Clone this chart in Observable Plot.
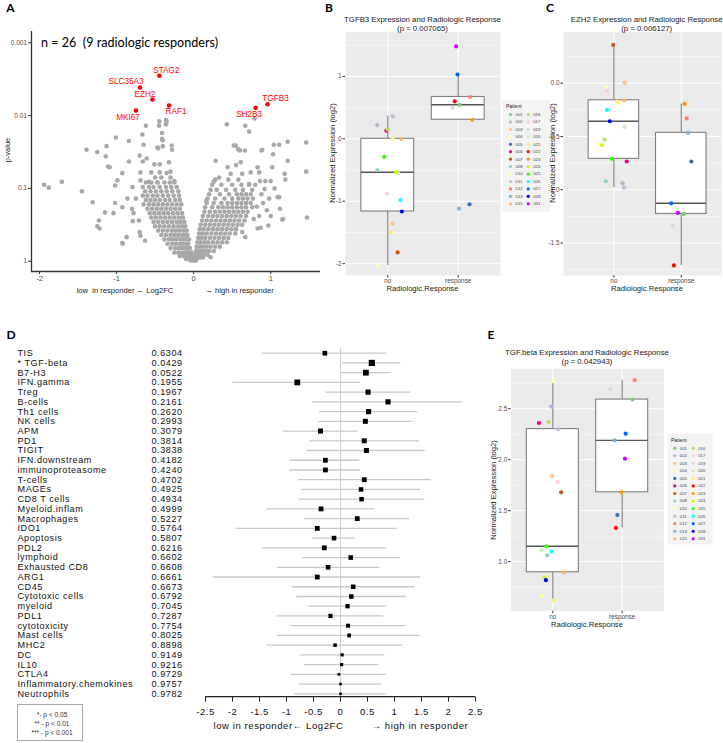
<!DOCTYPE html>
<html><head><meta charset="utf-8">
<script src="https://cdn.jsdelivr.net/npm/d3@7"></script>
<script src="https://cdn.jsdelivr.net/npm/@observablehq/plot@0.6"></script>
<style>
body{margin:0;background:#fff;}
#fig{position:relative;width:723px;height:743px;overflow:hidden;font-family:'Liberation Sans',Arial,sans-serif;}
#fig svg{position:absolute;}
</style></head><body><div id="fig"></div>
<script>
// ---------------- Panel A: volcano ----------------
const volcanoTicksX = [-2, -1, 0, 1];
const volcanoTickLabelsY = ["1", "0.1", "0.01", "0.001"]; // at -log10(p) = 0,1,2,3
const hitGenes = ["STAG2", "SLC35A3", "EZH2", "RAF1", "MKI67", "TGFB3", "SH2B3"];
const hitLog2FC = [-0.445, -0.695, -0.535, -0.32, -0.748, 0.959, 0.804];
const hitP = [0.00284, 0.00411, 0.00601, 0.00726, 0.00851, 0.00697, 0.00782];
// scattered genes: [log2FC, -log10 p]
const volcanoScatter = [
[-0.62,1.86],[-0.445,1.92],[-0.35,1.92],[-0.45,1.86],[-0.36,1.88],[-0.36,1.94],
[0.43,1.88],[0.67,1.86],[0.72,1.78],[0.79,1.96],
[-1.01,1.70],[-0.84,1.65],[-0.665,1.74],[-0.65,1.60],[-0.47,1.56],[-0.40,1.58],[-0.40,1.66],[-0.41,1.76],[-0.28,1.53],[-0.285,1.59],[-1.13,1.58],[-1.39,1.53],[-1.25,1.50],
[0.545,1.59],[0.59,1.53],[0.89,1.53],[1.04,1.60],[1.11,1.60],[1.22,1.64],[1.46,1.63],
[-1.94,1.05],[-1.88,1.01],[-1.71,1.09],[-1.45,0.96],[-1.31,0.81],
[-1.14,1.44],[-1.11,1.30],[-1.15,0.67],[-1.04,0.66],[-1.23,0.56],[-1.22,0.45],[-1.25,0.48],[-0.925,0.25],[-0.87,0.33],[-1.02,0.80],[-0.925,0.74],[-0.99,1.11],[-1.02,1.04],[-0.925,1.21],[-0.79,0.55],[-0.71,0.56],[-0.63,0.28],[-0.70,0.40],[-0.69,0.35],[-0.86,0.86],[-0.78,0.66],[-0.795,1.02],[-0.84,1.37],[-1.09,1.29],[-0.70,1.45],[-0.66,1.37],[-0.61,1.41],[-0.69,1.22],[-0.51,1.33],[-0.44,1.33],[-0.44,1.22],[-0.35,1.21],[-0.30,1.23],[-0.32,1.36],[-0.46,1.55],[-0.41,1.68],[-0.69,1.11],[-0.58,1.09],[-0.47,1.08],[-0.92,0.24],[-0.75,0.86],[-0.55,1.22],[-0.25,1.10],[-0.80,0.72],
[0.285,1.38],[0.52,1.59],[0.60,1.52],[0.61,1.36],[0.88,1.52],[1.22,1.38],[1.02,1.29],[0.85,1.22],[0.74,1.22],[0.63,1.20],[0.44,1.29],[1.18,1.20],[1.19,1.12],[1.0,1.10],[0.92,0.99],[1.46,1.23],[1.47,0.60],[1.11,0.88],[1.12,0.72],[1.16,0.58],[0.97,0.49],[0.83,0.45],[0.63,0.40],[0.78,0.58],[0.26,1.09],[0.165,0.83],[1.15,0.57],[1.09,0.88],[0.83,1.29],[0.72,1.06],[0.575,1.54],[0.665,1.52],[0.87,0.46],[0.67,0.33],[0.22,0.055],[1.03,1.47],[0.90,0.80],[0.95,0.70],[1.05,1.00],[0.88,0.92],[0.82,0.75],[0.80,1.05],[0.93,1.10],[0.85,0.62],[0.55,1.32],[0.48,1.20],[0.33,1.15],[1.00,0.62],[0.98,0.86],[0.86,1.10]
];
// dense V core: [-log10 p, log2FC, log2FC, ...]
const volcanoDenseRows = [
[1.15,-0.50,-0.42,-0.30],
[1.08,-0.62,-0.55,-0.47,-0.38,-0.31,-0.25],
[1.02,-0.66,-0.58,-0.52,-0.44,-0.36,-0.29,-0.22],
[0.96,-0.63,-0.56,-0.49,-0.42,-0.35,-0.28,-0.20],
[0.90,-0.66,-0.60,-0.53,-0.47,-0.40,-0.33,-0.26,-0.19],
[0.84,-0.62,-0.56,-0.50,-0.44,-0.37,-0.31,-0.24,-0.18],
[0.78,-0.65,-0.58,-0.52,-0.46,-0.40,-0.34,-0.28,-0.22,-0.16],
[0.72,-0.60,-0.54,-0.48,-0.42,-0.36,-0.30,-0.24,-0.18],
[0.66,-0.57,-0.51,-0.45,-0.39,-0.33,-0.27,-0.21,-0.15],
[0.60,-0.55,-0.49,-0.43,-0.37,-0.31,-0.25,-0.19,-0.14],
[0.54,-0.52,-0.46,-0.40,-0.34,-0.28,-0.22,-0.17,-0.12],
[0.48,-0.50,-0.44,-0.38,-0.32,-0.26,-0.20,-0.15,-0.11],
[0.42,-0.46,-0.40,-0.34,-0.28,-0.23,-0.18,-0.13,-0.09],
[0.36,-0.42,-0.36,-0.30,-0.25,-0.20,-0.15,-0.11,-0.08],
[0.30,-0.38,-0.32,-0.27,-0.22,-0.17,-0.13,-0.09,-0.06],
[0.24,-0.34,-0.28,-0.23,-0.18,-0.14,-0.10,-0.07],
[0.18,-0.30,-0.24,-0.19,-0.15,-0.11,-0.08,-0.05],
[0.12,-0.25,-0.20,-0.15,-0.11,-0.08,-0.05,-0.03],
[0.07,-0.18,-0.13,-0.09,-0.06,-0.03,-0.01],
[0.03,-0.10,-0.06,-0.03,0.0,0.02],
[0.01,-0.04,-0.01,0.01,0.03],
[1.12,0.28,0.45,0.58],
[1.05,0.24,0.36,0.50,0.62,0.72],
[0.98,0.22,0.30,0.42,0.54,0.64,0.76],
[0.92,0.20,0.34,0.46,0.56,0.62,0.68,0.74],
[0.86,0.18,0.28,0.40,0.50,0.58,0.64,0.70,0.77],
[0.80,0.17,0.26,0.36,0.44,0.50,0.56,0.62,0.68,0.74],
[0.74,0.15,0.24,0.32,0.38,0.44,0.50,0.56,0.62,0.68,0.76],
[0.68,0.14,0.21,0.28,0.34,0.40,0.46,0.52,0.58,0.64,0.70],
[0.62,0.12,0.19,0.25,0.31,0.37,0.43,0.49,0.55,0.61,0.68],
[0.56,0.11,0.17,0.23,0.29,0.35,0.41,0.47,0.53,0.59,0.66],
[0.50,0.09,0.15,0.21,0.27,0.33,0.39,0.45,0.51,0.57,0.63],
[0.44,0.08,0.13,0.19,0.25,0.31,0.37,0.43,0.49,0.55],
[0.38,0.07,0.12,0.17,0.23,0.29,0.35,0.41,0.47,0.54],
[0.32,0.06,0.10,0.15,0.21,0.27,0.33,0.39,0.45],
[0.26,0.05,0.09,0.14,0.19,0.25,0.31,0.37,0.43],
[0.20,0.04,0.08,0.12,0.17,0.22,0.28,0.34],
[0.14,0.03,0.07,0.11,0.15,0.20,0.26],
[0.09,0.02,0.05,0.09,0.13,0.18],
[0.05,0.02,0.05,0.08,0.12]
];

// ---------------- Panels B, C, E: patients ----------------
const patientIds = ["001","002","003","004","005","006","007","008","010","011","012","013","015","016","017","019","020","021","022","023","024","025","026","027","028","031"];
const patientColors = ["#7FC97F","#BEAED4","#FDC086","#FFFF99","#386CB0","#F0027F","#BF5B17","#8DD3C7","#FFFFB3","#BEBADA","#FB8072","#80B1D3","#FDB462","#B3DE69","#FCCDE5","#D9D9D9","#CCEBC5","#FFED6F","#FF0000","#FF9900","#CCFF00","#33FF00","#00FFFF","#0066FF","#0000FF","#CC00FF"];
const responders = ["001","005","012","013","019","022","023","027","031"];
const responseLabels = ["no", "response"];
const tgfb3 = [0.545,0.22,-1.36,0.0,-1.05,0.13,-1.82,-0.50,-2.03,0.36,0.67,-1.12,0.0,0.15,-0.88,0.50,-0.55,-1.50,0.60,0.305,-0.535,-0.29,-0.98,1.03,-1.165,1.48];
const tgfb3Jitter = [0.02,-0.15,0.07,0.07,0.16,-0.02,0.14,-0.15,-0.14,0.07,0.17,0.01,0.19,0.0,-0.01,-0.08,0.15,0.04,-0.05,0.20,0.12,-0.05,0.18,-0.01,0.20,-0.03];
const ezh2 = [-1.227,-0.94,0.005,-0.19,-0.735,-0.735,0.36,-0.92,-0.04,-0.98,-0.33,-0.466,-0.16,-0.53,-0.07,-1.34,-0.41,-0.175,-1.71,-0.194,-0.58,-0.71,-0.25,-1.127,-0.357,-1.218];
const ezh2Jitter = [0.04,0.13,0.16,0.07,0.15,0.19,-0.01,-0.12,-0.11,0.15,0.08,0.10,0.15,-0.14,-0.10,-0.13,0.16,0.05,-0.11,0.05,-0.18,-0.03,-0.10,-0.15,-0.06,-0.05];
const tgfbeta = [2.59,2.52,1.84,0.66,1.457,2.36,1.68,1.06,2.77,2.30,2.78,2.19,0.895,2.37,1.78,2.69,1.11,0.62,1.33,1.68,0.846,1.15,1.10,2.255,0.817,2.01];
const tgfbetaJitter = [0.15,-0.02,-0.01,-0.16,-0.07,-0.20,0.12,-0.08,0.01,0.08,0.18,-0.11,0.16,-0.06,0.07,-0.17,-0.16,0.01,-0.09,-0.01,-0.12,-0.09,-0.02,0.05,-0.10,0.04];

// ---------------- Panel D: forest ----------------
const forestNames = ["TIS","* TGF-beta","B7-H3","IFN.gamma","Treg","B-cells","Th1 cells","NK cells","APM","PD1","TIGIT","IFN.downstream","immunoproteasome","T-cells","MAGEs","CD8 T cells","Myeloid.inflam","Macrophages","IDO1","Apoptosis","PDL2","lymphoid","Exhausted CD8","ARG1","CD45","Cytotoxic cells","myeloid","PDL1","cytotoxicity","Mast cells","MHC2","DC","IL10","CTLA4","Inflammatory.chemokines","Neutrophils"];
const forestP = ["0.6304","0.0429","0.0522","0.1955","0.1967","0.2161","0.2620","0.2993","0.3079","0.3814","0.3838","0.4182","0.4240","0.4702","0.4925","0.4934","0.4999","0.5227","0.5764","0.5807","0.6216","0.6602","0.6608","0.6661","0.6673","0.6792","0.7045","0.7287","0.7754","0.8025","0.8898","0.9149","0.9216","0.9729","0.9757","0.9782"];
const forestEst = [-0.29,0.58,0.47,-0.80,0.51,0.88,0.52,0.46,-0.37,0.44,0.48,-0.28,-0.28,0.44,0.38,0.39,-0.36,0.31,-0.43,-0.12,-0.30,0.19,-0.23,-0.43,0.235,0.20,0.13,-0.185,0.14,0.16,-0.10,0.03,0.02,-0.03,0.0,0.0];
const forestLo = [-1.45,0.04,0.0,-1.99,-0.27,-0.51,-0.39,-0.41,-1.05,-0.57,-0.62,-0.93,-0.94,-0.78,-0.72,-0.76,-1.36,-0.67,-1.93,-0.52,-1.44,-0.71,-1.17,-2.36,-0.89,-0.81,-0.60,-1.17,-0.93,-1.17,-1.36,-0.75,-0.67,-0.91,-0.76,-0.85];
const forestHi = [0.86,1.12,0.94,0.37,1.30,2.27,1.43,1.34,0.32,1.46,1.57,0.36,0.37,1.68,1.48,1.56,0.64,1.28,1.05,0.28,0.85,1.11,0.73,1.49,1.38,1.22,0.85,0.80,1.22,1.49,1.16,0.82,0.71,0.85,0.76,0.84];
const forestWeight = [0.47,0.62,0.58,0.58,0.52,0.52,0.52,0.50,0.50,0.50,0.50,0.48,0.48,0.48,0.45,0.45,0.48,0.48,0.48,0.46,0.48,0.46,0.46,0.48,0.45,0.45,0.43,0.42,0.40,0.38,0.35,0.32,0.32,0.28,0.26,0.26];
const forestTicks = [-2.5,-2,-1.5,-1,-0.5,0,0.5,1,1.5,2,2.5];
const sigLegend = ["*- p < 0.05", "** - p < 0.01", "*** - p < 0.001"];

// ================= drawing =================
const fig = document.getElementById("fig");
const SANS = "'Liberation Sans', Arial, sans-serif";
const HEAD = "Lato, 'Open Sans', sans-serif";

function place(svg, left, top) {
  svg.style.left = left + "px"; svg.style.top = top + "px";
  fig.appendChild(svg); return svg;
}
function txt(s, x, y, css = {}, anchor = "middle", rotate = 0) {
  const d = document.createElement("div");
  d.textContent = s;
  Object.assign(d.style, {position: "absolute", whiteSpace: "pre", lineHeight: "1", left: x + "px", top: y + "px", fontFamily: SANS, color: "#1a1a1a"});
  const tx = anchor === "start" ? "0" : anchor === "end" ? "-100%" : "-50%";
  d.style.transform = `translate(${tx},-50%)` + (rotate ? ` rotate(${rotate}deg)` : "");
  Object.assign(d.style, css);
  fig.appendChild(d); return d;
}
const baseStyle = {background: "transparent", maxWidth: "none", overflow: "visible", fontFamily: SANS};

// ---- A
const grayPts = [];
volcanoScatter.forEach(([fc, v]) => grayPts.push({fc, v}));
volcanoDenseRows.forEach(([v, ...fcs]) => fcs.forEach(fc => grayPts.push({fc, v})));
const hits = hitGenes.map((g, i) => ({gene: g, fc: hitLog2FC[i], v: -Math.log10(hitP[i])}));
const nudge = {STAG2: [7, -5.5], SLC35A3: [-14, -6], EZH2: [-7.5, -5.5], RAF1: [7, 5.5], MKI67: [-8, 7], TGFB3: [8, -5.5], SH2B3: [-6.5, 6.5]};
const xA = [-2.104, 1.646], yA = [-0.1415, 3.155];
const volcano = Plot.plot({
  width: 320, height: 300, marginLeft: 31, marginRight: 0, marginTop: 31, marginBottom: 29,
  x: {domain: xA}, y: {domain: yA}, style: baseStyle,
  marks: [
    Plot.dot(grayPts, {x: "fc", y: "v", r: 2.3, fill: "#A8A8A8"}),
    Plot.dot(hits, {x: "fc", y: "v", r: 2.3, fill: "#FF0000"}),
    ...hits.map(h => Plot.text([h], {x: "fc", y: "v", text: "gene", dx: nudge[h.gene][0], dy: nudge[h.gene][1], fill: "#FF0000", fontSize: 8.2})),
    Plot.axisX({ticks: volcanoTicksX, tickFormat: d => String(d), tickSize: 3, tickPadding: 1.5, fontSize: 7.5, stroke: "#333", fill: "#4D4D4D", label: null}),
    Plot.axisY({ticks: [0, 1, 2, 3], tickFormat: d => volcanoTickLabelsY[d], tickSize: 3, tickPadding: 1.5, fontSize: 6.5, stroke: "#333", fill: "#4D4D4D", label: null}),
    Plot.ruleX([xA[0]], {stroke: "#333", strokeWidth: 1.3}),
    Plot.ruleY([yA[0]], {stroke: "#333", strokeWidth: 1.3})
  ]
});
place(volcano, 0, 0);
txt("n = 26  (9 radiologic responders)", 41, 43, {fontFamily: HEAD, fontSize: "12.6px", color: "#000"}, "start");
txt("p-value", 8, 150, {fontSize: "7.5px", color: "#222"}, "middle", -90);
txt("low  in responder \u2190 Log2FC", 125, 290.5, {fontSize: "7.6px", color: "#222"});
txt("\u2192 high in responder", 239.5, 290.5, {fontSize: "7.6px", color: "#222"});

// ---- box panels
function boxPanel(cfg) {
  const pts = patientIds.map((id, i) => ({id, color: patientColors[i], g: responders.includes(id) ? 2 : 1, val: cfg.values[i], j: cfg.jitter[i]}));
  const stats = [1, 2].map(g => {
    const v = pts.filter(p => p.g === g).map(p => p.val).sort(d3.ascending);
    const q1 = d3.quantile(v, 0.25), med = d3.quantile(v, 0.5), q3 = d3.quantile(v, 0.75), iqr = q3 - q1;
    return {g, q1, med, q3, lo: d3.min(v.filter(x => x >= q1 - 1.5 * iqr)), hi: d3.max(v.filter(x => x <= q3 + 1.5 * iqr))};
  });
  const step = cfg.yTicks[1] - cfg.yTicks[0];
  const [ya, yb] = cfg.yDomain;
  const minors = d3.range(-12, 12).map(k => cfg.yTicks[0] + (k + 0.5) * step).filter(v => v > Math.min(ya, yb) && v < Math.max(ya, yb));
  const p = Plot.plot({
    width: cfg.width, height: cfg.height, marginLeft: cfg.mL, marginRight: cfg.mR, marginTop: cfg.mT, marginBottom: cfg.mB,
    x: {domain: cfg.xDomain}, y: {domain: cfg.yDomain}, style: baseStyle,
    marks: [
      Plot.frame({fill: "#EBEBEB", stroke: "none"}),
      Plot.ruleY(minors, {stroke: "white", strokeWidth: 0.5}),
      Plot.ruleY(cfg.yTicks, {stroke: "white", strokeWidth: 1}),
      Plot.ruleX([1, 2], {stroke: "white", strokeWidth: 1}),
      Plot.ruleX(stats, {x: "g", y1: "q3", y2: "hi", stroke: "#7F7F7F", strokeWidth: 1.1}),
      Plot.ruleX(stats, {x: "g", y1: "lo", y2: "q1", stroke: "#7F7F7F", strokeWidth: 1.1}),
      Plot.rect(stats, {x1: d => d.g - 0.375, x2: d => d.g + 0.375, y1: "q1", y2: "q3", fill: "white", stroke: "#7F7F7F", strokeWidth: 1.1}),
      Plot.ruleY(stats, {y: "med", x1: d => d.g - 0.375, x2: d => d.g + 0.375, stroke: "#555", strokeWidth: 1.4}),
      Plot.dot(pts, {x: d => d.g + d.j, y: "val", fill: "color", r: 2.1}),
      Plot.axisY({ticks: cfg.yTicks, tickFormat: cfg.yFmt, tickSize: 2.5, tickPadding: 1.5, fontSize: 6.4, stroke: "#333", fill: "#4D4D4D", label: null}),
      Plot.axisX({ticks: [1, 2], tickFormat: d => responseLabels[d - 1], tickSize: 2.5, tickPadding: 0.5, fontSize: 6.4, stroke: "#333", fill: "#4D4D4D", label: null})
    ]
  });
  place(p, cfg.left, cfg.top);
}
function patientLegend(left, top, width, height, kx0, kx1, ky0, ky1, labelDx) {
  const data = patientIds.map((id, i) => ({id, color: patientColors[i], col: Math.floor(i / 13), row: i % 13}));
  const p = Plot.plot({
    width, height, margin: 0, style: baseStyle,
    x: {domain: [0, 1], range: [kx0, kx1], axis: null},
    y: {domain: [0, 12], range: [ky0, ky1], axis: null},
    marks: [
      Plot.frame({fill: "#F3F3F3", stroke: "none"}),
      Plot.text(["Patient"], {frameAnchor: "top-left", dx: 3.5, dy: 4.5, fontSize: 5, fill: "#222"}),
      Plot.dot(data, {x: "col", y: "row", fill: "color", r: 1.6}),
      Plot.text(data, {x: "col", y: "row", text: "id", dx: labelDx, textAnchor: "start", fontSize: 4.3, fill: "#444"})
    ]
  });
  place(p, left, top);
}

// B
boxPanel({values: tgfb3, jitter: tgfb3Jitter, left: 320, top: 0, width: 185, height: 295, mL: 25, mR: 5, mT: 31.7, mB: 20,
  xDomain: [0.4, 2.6], yDomain: [-2.19, 1.708], yTicks: [-2, -1, 0, 1], yFmt: d => String(d)});
patientLegend(502, 99, 48, 112, 8, 25.7, 15, 104.3, 5);
txt("TGFB3 Expression and Radiologic Response", 422.5, 20, {fontSize: "7.8px"});
txt("(p = 0.007065)", 422.5, 29, {fontSize: "7.8px"});
txt("Normalized Expression (log2)", 333, 153, {fontSize: "7.6px"}, "middle", -90);
txt("Radiologic.Response", 422.5, 289, {fontSize: "7.6px"});

// C
boxPanel({values: ezh2, jitter: ezh2Jitter, left: 530, top: 0, width: 193, height: 295, mL: 33, mR: 2, mT: 31.7, mB: 20,
  xDomain: [0.252, 2.597], yDomain: [-1.805, 0.479], yTicks: [-1.5, -1, -0.5, 0], yFmt: d => d.toFixed(1)});
txt("EZH2 Expression and Radiologic Response", 646.7, 20, {fontSize: "7.8px"});
txt("(p = 0.006127)", 646.7, 29, {fontSize: "7.8px"});
txt("Normalized Expression (log2)", 553, 153, {fontSize: "7.6px"}, "middle", -90);
txt("Radiologic.Response", 647, 289, {fontSize: "7.6px"});

// E
boxPanel({values: tgfbeta, jitter: tgfbetaJitter, left: 485, top: 340, width: 185, height: 290, mL: 25.7, mR: 6.7, mT: 28.3, mB: 19.3,
  xDomain: [0.4, 2.6], yDomain: [0.513, 2.892], yTicks: [1, 1.5, 2, 2.5], yFmt: d => d.toFixed(1)});
patientLegend(667, 433, 45, 111, 7.3, 25.7, 14.7, 105.3, 5);
txt("TGF.beta Expression and Radiologic Response", 587, 353.3, {fontSize: "7.8px"});
txt("(p = 0.042943)", 587, 361.7, {fontSize: "7.8px"});
txt("Normalized Expression (log2)", 494, 489.5, {fontSize: "7.6px"}, "middle", -90);
txt("Radiologic.Response", 587, 625, {fontSize: "7.6px"});

// ---- D forest
const forestRows = forestNames.map((n, i) => ({name: n, p: forestP[i], est: forestEst[i], lo: forestLo[i], hi: forestHi[i], w: forestWeight[i]}));
const forest = Plot.plot({
  width: 480, height: 453, marginLeft: 205, marginRight: 5, marginTop: 58, marginBottom: 46.3,
  x: {domain: [-2.5, 2.5]},
  y: {type: "point", padding: 0, round: false, domain: forestNames, range: [62.7, 403.3], axis: null},
  r: {type: "linear", domain: [0, 1], range: [0, 10 / Math.sqrt(Math.PI)]},
  style: {...baseStyle, letterSpacing: "0.55px"},
  marks: [
    Plot.ruleX([0], {stroke: "#CFCFCF", strokeWidth: 1}),
    Plot.ruleY(forestRows, {y: "name", x1: "lo", x2: "hi", stroke: "#C9C9C9", strokeWidth: 1.3}),
    Plot.dot(forestRows, {x: "est", y: "name", r: "w", symbol: "square", fill: "#000", stroke: "none"}),
    Plot.text(forestRows, {y: "name", text: "name", frameAnchor: "left", dx: -188, textAnchor: "start", fontSize: 9.1, fill: "#111"}),
    Plot.text(forestRows, {y: "name", text: "p", frameAnchor: "left", dx: -54, textAnchor: "start", fontSize: 9.1, fill: "#111"}),
    Plot.axisX({ticks: forestTicks, tickFormat: d => String(d), tickSize: 5, tickPadding: 6, fontSize: 9.6, stroke: "#222", fill: "#111", label: null})
  ]
});
{
  const sx = forest.scale("x");
  d3.select(forest).append("line")
    .attr("x1", sx.apply(-2.5)).attr("x2", sx.apply(2.5))
    .attr("y1", 453 - 46.3).attr("y2", 453 - 46.3)
    .attr("stroke", "#222").attr("stroke-width", 1.3);
}
place(forest, 0, 290);
txt("low in responder\u2190 Log2FC", 343.5, 725.7, {fontSize: "9.6px", letterSpacing: "0.55px", color: "#111"}, "end");
txt("\u2192 high in responder", 371.5, 725.7, {fontSize: "9.6px", letterSpacing: "0.55px", color: "#111"}, "start");
{
  const box = document.createElement("div");
  Object.assign(box.style, {position: "absolute", left: "16.7px", top: "704px", width: "66px", height: "36.5px", border: "1px solid #A8A8A8", boxSizing: "border-box"});
  fig.appendChild(box);
  sigLegend.forEach((s, i) => txt(s, 52, 715 + i * 9, {fontSize: "6.6px", color: "#333"}));
}

// ---- panel letters
[["A", 10.5, 8], ["B", 329, 8], ["C", 550, 8], ["D", 11, 335], ["E", 491, 335]].forEach(([s, x, y]) =>
  txt(s, x, y, {fontFamily: HEAD, fontWeight: "700", fontSize: "12px", color: "#000"}));
</script></body></html>
